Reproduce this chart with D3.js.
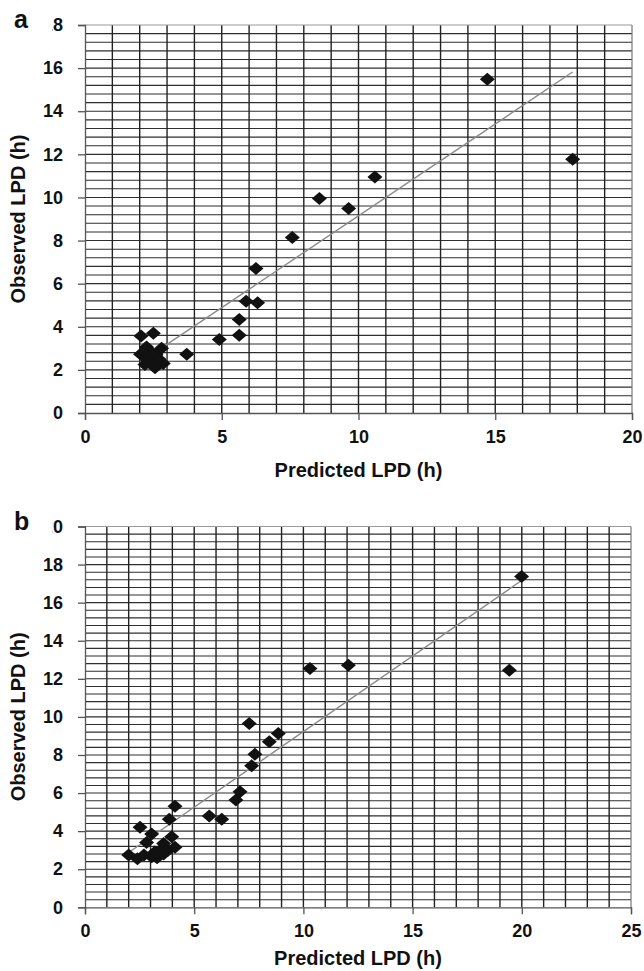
<!DOCTYPE html>
<html>
<head>
<meta charset="utf-8">
<script src="https://cdn.jsdelivr.net/npm/d3@7"></script>
<style>
  body { margin: 0; background: #fff; }
  svg { display: block; }
  text { font-family: "Liberation Sans", Arial, sans-serif; font-weight: bold; fill: #111; }
</style>
</head>
<body>
<svg id="chart"></svg>
<script>
// panel a
const predA = [14.71, 17.83, 10.6, 8.57, 9.64, 7.58, 6.25, 5.89, 6.31, 5.64, 5.64, 4.91, 3.72,
  2.05, 2.5, 2.03, 2.25, 2.4, 2.3, 2.6, 2.8, 2.86, 2.5, 2.19, 2.56, 2.3, 2.7]
const obsA = [15.48, 11.77, 10.95, 9.95, 9.49, 8.14, 6.7, 5.19, 5.11, 4.34, 3.61, 3.41, 2.72,
  3.57, 3.7, 2.72, 3.06, 2.85, 2.6, 2.7, 3.0, 2.3, 2.3, 2.25, 2.1, 2.45, 2.5]
const fitA = { slope: 0.852, intercept: 0.628 }

// panel b
const predB = [19.99, 19.43, 12.06, 10.3, 7.52, 8.85, 8.44, 7.78, 7.63, 7.1, 6.91, 5.69, 6.26, 4.12, 3.86, 2.52,
  2.0, 2.4, 2.7, 3.05, 3.3, 3.6, 3.8, 2.82, 3.05, 3.45, 3.6, 3.97, 4.12, 3.2]
const obsB = [17.38, 12.45, 12.71, 12.54, 9.65, 9.13, 8.69, 8.04, 7.43, 6.07, 5.63, 4.79, 4.63, 5.31, 4.62, 4.2,
  2.75, 2.55, 2.75, 2.65, 2.6, 2.8, 3.0, 3.4, 3.85, 3.0, 3.35, 3.7, 3.15, 2.9]
const fitB = { slope: 0.794, intercept: 1.29 }

const xTicksA = [0, 5, 10, 15, 20]
const yTicksA = [0, 2, 4, 6, 8, 10, 12, 14, 16, 18]
const xTicksB = [0, 5, 10, 15, 20, 25]
const yTicksB = [0, 2, 4, 6, 8, 10, 12, 14, 16, 18, 20]

const panels = [
  { label: 'a', pred: predA, obs: obsA, fit: fitA, xMax: 20, yMax: 18, xTicks: xTicksA, yTicks: yTicksA,
    left: 85, right: 632, top: 25, bottom: 413, titleY: 477 },
  { label: 'b', pred: predB, obs: obsB, fit: fitB, xMax: 25, yMax: 20, xTicks: xTicksB, yTicks: yTicksB,
    left: 85, right: 631, top: 526.5, bottom: 907.3, titleY: 965 }
]

const svg = d3.select('#chart').attr('width', 644).attr('height', 971)

panels.forEach(p => {
  const x = d3.scaleLinear().domain([0, p.xMax]).range([p.left, p.right])
  const y = d3.scaleLinear().domain([0, p.yMax]).range([p.bottom, p.top])
  const g = svg.append('g')

  // minor grid: x every 1, y every major/5
  const xGrid = d3.range(1, p.xMax)
  const yGrid = d3.range(1, Math.round(p.yMax / 0.4)).map(i => i * 0.4)

  g.selectAll('.hg').data(yGrid).enter().append('line')
    .attr('x1', p.left).attr('x2', p.right)
    .attr('y1', d => y(d)).attr('y2', d => y(d))
    .attr('stroke', '#2e2e2e').attr('stroke-width', 1.1)

  g.selectAll('.vg').data(xGrid).enter().append('line')
    .attr('y1', p.top).attr('y2', p.bottom)
    .attr('x1', d => x(d)).attr('x2', d => x(d))
    .attr('stroke', '#222').attr('stroke-width', 1.4)

  // frame top/right lighter
  g.append('line').attr('x1', p.left).attr('x2', p.right).attr('y1', p.top).attr('y2', p.top)
    .attr('stroke', '#999').attr('stroke-width', 1.2)
  g.append('line').attr('x1', p.right).attr('x2', p.right).attr('y1', p.top).attr('y2', p.bottom)
    .attr('stroke', '#777').attr('stroke-width', 1.2)

  // axes
  const yAxis = d3.axisLeft(y).tickValues(p.yTicks).tickSize(7).tickPadding(15).tickFormat(d3.format('d'))
  const xAxis = d3.axisBottom(x).tickValues(p.xTicks).tickSize(7).tickPadding(10).tickFormat(d3.format('d'))

  const ya = g.append('g').attr('transform', `translate(${p.left},0)`).call(yAxis)
  const xa = g.append('g').attr('transform', `translate(0,${p.bottom})`).call(xAxis)
  ;[ya, xa].forEach(a => {
    a.select('.domain').attr('stroke', '#555').attr('stroke-width', 1.3)
    a.selectAll('.tick line').attr('stroke', '#555').attr('stroke-width', 1.3)
    a.selectAll('.tick text').attr('font-size', 18).attr('font-family', '"Liberation Sans", Arial, sans-serif')
      .attr('font-weight', 'bold').attr('fill', '#111')
  })

  // trend line
  const xs = d3.extent(p.pred)
  g.append('line')
    .attr('x1', x(xs[0])).attr('y1', y(p.fit.slope * xs[0] + p.fit.intercept))
    .attr('x2', x(xs[1])).attr('y2', y(p.fit.slope * xs[1] + p.fit.intercept))
    .attr('stroke', '#8a8a8a').attr('stroke-width', 1.4)

  // diamonds
  const pts = p.pred.map((v, i) => [v, p.obs[i]])
  g.selectAll('.pt').data(pts).enter().append('path')
    .attr('d', d => {
      const cx = x(d[0]), cy = y(d[1])
      return `M${cx},${cy - 6.5}L${cx + 7.5},${cy}L${cx},${cy + 6.5}L${cx - 7.5},${cy}Z`
    })
    .attr('fill', '#111')

  // axis titles
  g.append('text')
    .attr('x', (p.left + p.right) / 2).attr('y', p.titleY)
    .attr('text-anchor', 'middle').attr('font-size', 20)
    .text('Predicted LPD (h)')
  g.append('text')
    .attr('transform', `translate(25,${(p.top + p.bottom) / 2}) rotate(-90)`)
    .attr('text-anchor', 'middle').attr('font-size', 20)
    .text('Observed LPD (h)')

  // panel letter, its box hides the first digit of the top tick
  g.append('rect').attr('x', 0).attr('y', p.top - 14).attr('width', 52.5).attr('height', 26).attr('fill', '#fff')
  g.append('text').attr('x', 14).attr('y', p.top + 3).attr('font-size', 25).text(p.label)
})
</script>
</body>
</html>
